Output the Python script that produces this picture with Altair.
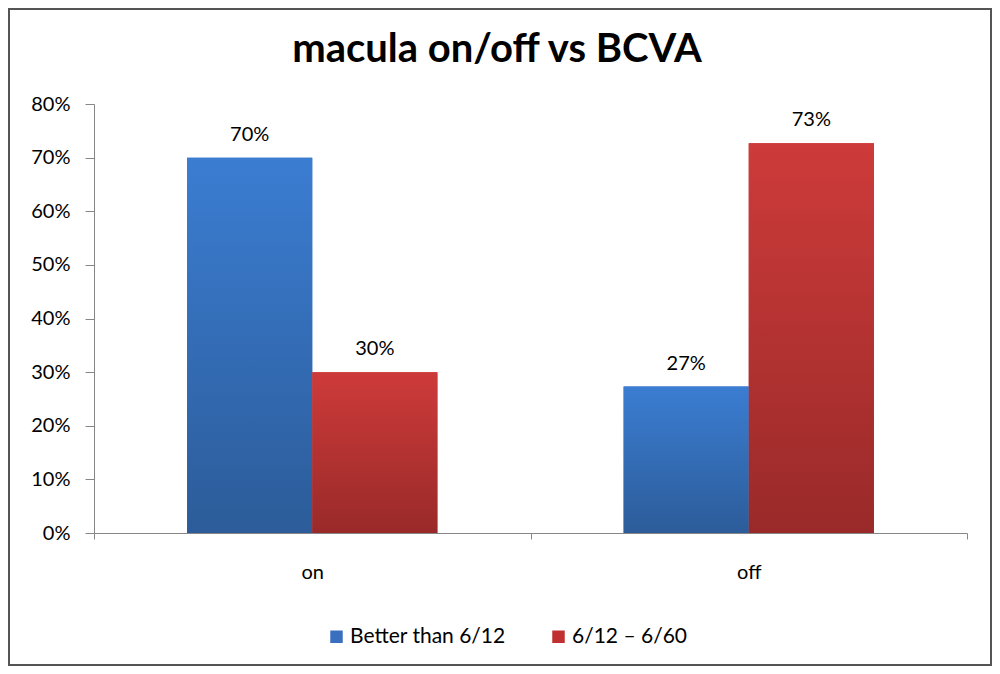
import altair as alt
import pandas as pd

title_text = "macula on/off vs BCVA"
categories = ["on", "off"]
series = ["Better than 6/12", "6/12 – 6/60"]
better = [0.70, 0.273]
worse = [0.30, 0.727]
labels_better = ["70%", "27%"]
labels_worse = ["30%", "73%"]

rows = []
for i, c in enumerate(categories):
    rows.append({"cat": c, "series": series[0], "value": better[i], "label": labels_better[i]})
    rows.append({"cat": c, "series": series[1], "value": worse[i], "label": labels_worse[i]})
df = pd.DataFrame(rows)

FONT = "Lato"
FS = 20
blue_grad = alt.Gradient(gradient="linear", x1=0, x2=0, y1=0, y2=1,
                         stops=[alt.GradientStop(color="#3B7DD2", offset=0),
                                alt.GradientStop(color="#2C5C99", offset=1)])
red_grad = alt.Gradient(gradient="linear", x1=0, x2=0, y1=0, y2=1,
                        stops=[alt.GradientStop(color="#CD3B3A", offset=0),
                               alt.GradientStop(color="#992A29", offset=1)])

x_enc = alt.X("cat:N", sort=categories, title=None,
              scale=alt.Scale(paddingInner=0, paddingOuter=0),
              axis=alt.Axis(labelAngle=0, tickBand="extent", domainColor="#868686",
                            tickColor="#868686", tickSize=6, labelPadding=23,
                            labelFontSize=FS, labelColor="#000000", labelFont=FONT))
xoff = alt.XOffset("series:N", sort=series,
                   scale=alt.Scale(paddingInner=0, paddingOuter=0.744))
y_enc = alt.Y("value:Q", title=None,
              scale=alt.Scale(domain=[0, 0.8], nice=False),
              axis=alt.Axis(format=".0%", values=[0, 0.1, 0.2, 0.3, 0.4, 0.5, 0.6, 0.7, 0.8],
                            grid=False, domainColor="#868686", tickColor="#868686",
                            tickSize=9, labelPadding=15, labelFontSize=FS,
                            labelColor="#000000", labelFont=FONT))

base = alt.Chart(df)

legend_bars = base.mark_bar().encode(
    x=x_enc, xOffset=xoff, y=y_enc,
    color=alt.Color("series:N", sort=series,
                    scale=alt.Scale(domain=series, range=["#3A6FC0", "#C03030"]),
                    legend=alt.Legend(title=None, orient="none", direction="horizontal",
                                      legendX=232, legendY=522, symbolType="square",
                                      symbolSize=156, symbolStrokeWidth=0,
                                      labelFontSize=21, labelFont=FONT, labelColor="#000000",
                                      columnPadding=42, labelOffset=3)),
)

blue_bars = base.transform_filter(alt.datum.series == series[0]).mark_bar(
    color=blue_grad).encode(x=x_enc, xOffset=xoff, y=y_enc)
red_bars = base.transform_filter(alt.datum.series == series[1]).mark_bar(
    color=red_grad).encode(x=x_enc, xOffset=xoff, y=y_enc)

text = base.mark_text(baseline="alphabetic", dy=-17, fontSize=FS, font=FONT, color="#000000").encode(
    x=x_enc, xOffset=xoff, y=y_enc, text="label:N")

title_mark = alt.Chart(pd.DataFrame({"t": [title_text]})).mark_text(
    font=FONT, fontSize=40, fontWeight="bold", color="#000000",
    align="center", baseline="alphabetic").encode(
    x=alt.value(403), y=alt.value(-42), text="t:N")

frame = alt.Chart(pd.DataFrame({"a": [0]})).mark_rect(
    fill=None, stroke="#555555", strokeWidth=2).encode(
    x=alt.value(-85), x2=alt.value(897), y=alt.value(-95), y2=alt.value(561))

chart = alt.layer(legend_bars, blue_bars, red_bars, text, title_mark, frame).properties(
    width=873, height=429,
    autosize=alt.AutoSizeParams(type="none"),
    padding={"left": 86, "top": 96, "right": 25, "bottom": 133},
).configure(background="white").configure_view(stroke=None, strokeWidth=0)

chart.save("out.html", embed_options={"renderer": "svg", "actions": False})
